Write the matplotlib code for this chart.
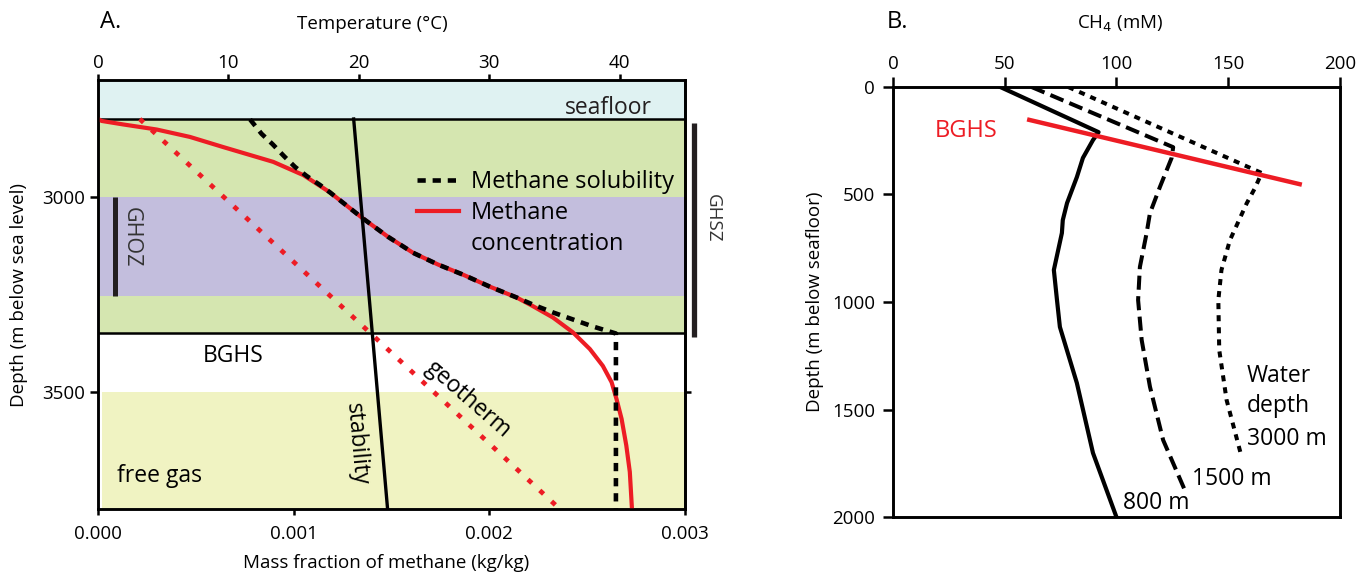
import matplotlib
matplotlib.use("Agg")
import matplotlib.pyplot as plt
import matplotlib.transforms as mtransforms
from matplotlib.lines import Line2D

plt.rcParams["font.family"] = ["Open Sans", "DejaVu Sans"]

# ---- panel A data (depth in m below sea level) ----
conc_depth = [2800, 2805, 2814, 2827, 2846, 2872, 2910, 2944, 2988, 3055, 3102, 3143, 3173,
              3199, 3230, 3258, 3280, 3309, 3347, 3390, 3433, 3475, 3518, 3569, 3637, 3705,
              3800]
conc_mf = [0.0, 0.0000189, 0.000129, 0.0003, 0.00047, 0.00064, 0.000896, 0.00105, 0.001185,
           0.001354, 0.001482, 0.00161, 0.001737, 0.001865, 0.002003, 0.002141, 0.002223,
           0.002325, 0.002427, 0.002514, 0.00258, 0.002625, 0.00265, 0.002676, 0.0027,
           0.002718, 0.002729]
sol_depth = [2801, 2838, 2865, 2896, 2923, 2946, 2969, 2988, 3055, 3102, 3143, 3173, 3199,
             3230, 3258, 3276, 3296, 3314, 3332, 3350, 3800]
sol_mf = [0.000777, 0.000836, 0.000893, 0.000952, 0.001007, 0.001066, 0.001134, 0.001185,
          0.001354, 0.001482, 0.00161, 0.001737, 0.001865, 0.002003, 0.002141, 0.002223,
          0.002325, 0.002427, 0.002529, 0.002647, 0.002647]
geo_depth = [2800, 3800]
geo_temp = [3.2, 35.4]
stab_depth = [2800, 3800]
stab_temp = [19.6, 22.2]

top_depth, bottom_depth = 2700, 3800
seafloor_depth = 2800
bghs_depth = 3350
ghoz_top, ghoz_bottom = 3000, 3255
ghsz_top, ghsz_bottom = 2810, 3360
free_gas_top = 3500

# ---- panel B data (depth in m below seafloor, CH4 in mM) ----
d800 = [0, 210, 247, 330, 419, 540, 619, 679, 851, 991, 1116, 1377, 1702, 2000]
c800 = [48, 92, 89.5, 85, 82.3, 77.9, 76, 75.6, 72, 73.4, 74.7, 82.3, 89.5, 100]
d1500 = [0, 280, 330, 464, 587, 680, 837, 991, 1177, 1394, 1642, 1875]
c1500 = [62, 125.4, 124.7, 119.5, 115, 113.5, 110.5, 109.7, 111.3, 115, 120.9, 130.6]
d3000 = [0, 400, 470, 541, 712, 851, 991, 1223, 1456, 1720]
c3000 = [78.4, 165, 162, 158.3, 150.8, 147, 145.6, 146, 149.3, 156]
bghs_b_ch4 = [61, 182]
bghs_b_depth = [153, 452]

RED = "#ed1c24"
CYAN = "#dff2f2"
GREEN = "#d5e6b0"
PURPLE = "#c3bedd"
YELLOW = "#f0f3c2"
DARK = "#231f20"
TICK_FS = 13.5
LABEL_FS = 13.5
INNER_FS = 16.5

fig = plt.figure(figsize=(13.61, 5.73), dpi=100)
axA = fig.add_axes([0.0720, 0.1117, 0.4313, 0.7487])
axB = fig.add_axes([0.6561, 0.0977, 0.3284, 0.7505])

# ---------------- panel A ----------------
axA.axhspan(top_depth, seafloor_depth, color=CYAN, lw=0, zorder=0)
axA.axhspan(seafloor_depth, bghs_depth, color=GREEN, lw=0, zorder=0)
axA.axhspan(ghoz_top, ghoz_bottom, color=PURPLE, lw=0, zorder=0)
axA.axhspan(free_gas_top, bottom_depth, xmin=0.006, color=YELLOW, lw=0, zorder=0)
axA.axhline(seafloor_depth, color="k", lw=1.8, zorder=1)
axA.axhline(bghs_depth, color="k", lw=1.8, zorder=1)

conc_line, = axA.plot(conc_mf, conc_depth, color=RED, lw=3.0, zorder=3)
sol_line, = axA.plot(sol_mf, sol_depth, color="k", lw=3.3, ls=(0, (1.8, 1.5)), zorder=4)

axA.plot([0.0000869, 0.0000869], [ghoz_top, ghoz_bottom], color=DARK, lw=3.6, zorder=2,
         solid_capstyle="butt")
axA.text(0.000169, 3102, "GHOZ", rotation=-90, ha="center", va="center", fontsize=15.5,
         color="#333333")

axA.set_xlim(0, 0.003)
axA.set_xticks([0, 0.001, 0.002, 0.003])
axA.set_xticklabels([f"{v:.3f}" for v in [0, 0.001, 0.002, 0.003]])
axA.set_yticks([3000, 3500])
axA.tick_params(axis="x", direction="out", length=4.3, width=1.8, pad=7, labelsize=TICK_FS)
axA.tick_params(axis="y", direction="out", length=5.5, width=1.8, pad=4, labelsize=TICK_FS)
for s in axA.spines.values():
    s.set_linewidth(1.8)

sec = axA.secondary_yaxis("right")
sec.set_yticks([free_gas_top])
sec.set_yticklabels([""])
sec.tick_params(direction="out", length=4.3, width=1.8)
sec.spines["right"].set_linewidth(1.8)

twin = axA.twiny()
twin.plot(geo_temp, geo_depth, color=RED, lw=3.4, ls=(0, (1.1, 2.3)), zorder=3)
twin.plot(stab_temp, stab_depth, color="k", lw=2.4, zorder=4)
twin.set_xlim(0, 45)
twin.set_xticks([0, 10, 20, 30, 40])
twin.tick_params(axis="x", direction="out", length=4.3, width=1.8, pad=1.5, labelsize=TICK_FS)
for s in twin.spines.values():
    s.set_linewidth(1.8)

axA.set_ylim(bottom_depth, top_depth)

axA.text(0.00283, 2786, "seafloor", ha="right", va="baseline", fontsize=INNER_FS, color=DARK)
axA.text(0.000537, 3423, "BGHS", ha="left", va="baseline", fontsize=INNER_FS)
axA.text(0.0000971, 3732, "free gas", ha="left", va="baseline", fontsize=INNER_FS)
axA.text(0.001323, 3633, "stability", rotation=-85, ha="center", va="center", fontsize=INNER_FS,
         rotation_mode="anchor", zorder=5)
axA.text(0.00189, 3518, "geotherm", rotation=-41, ha="center", va="center", fontsize=INNER_FS,
         rotation_mode="anchor", zorder=5)

blend = mtransforms.blended_transform_factory(axA.transAxes, axA.transData)
axA.plot([1.015, 1.015], [ghsz_top, ghsz_bottom], color=DARK, lw=3.8, transform=blend,
         clip_on=False, solid_capstyle="butt")
axA.text(1.048, 3054, "GHSZ", rotation=-90, ha="center", va="center", fontsize=13.5,
         color="#333333", transform=blend, clip_on=False)

blank = Line2D([], [], color="none")
leg = axA.legend([sol_line, conc_line, blank],
                 ["Methane solubility", "Methane", "concentration"],
                 loc="upper left", bbox_to_anchor=(0.543, 0.79), frameon=False,
                 fontsize=17, handlelength=1.8, handletextpad=0.5, borderpad=0,
                 borderaxespad=0, labelspacing=0.3)
leg.set_zorder(6)

fig.text(100 / 1361, 1 - 22 / 573, "A.", fontsize=17, va="center", ha="left")
fig.text(372 / 1361, 1 - 24 / 573, "Temperature (°C)", fontsize=LABEL_FS, va="center",
         ha="center")
fig.text(386 / 1361, 1 - 563 / 573, "Mass fraction of methane (kg/kg)", fontsize=LABEL_FS,
         va="center", ha="center")
fig.text(19 / 1361, 1 - 295 / 573, "Depth (m below sea level)", fontsize=LABEL_FS,
         va="center", ha="center", rotation=90)

# ---------------- panel B ----------------
axB.plot(c800, d800, color="k", lw=3.0)
axB.plot(c1500, d1500, color="k", lw=2.9, ls=(0, (3.5, 1.6)))
axB.plot(c3000, d3000, color="k", lw=2.9, ls=(0, (1.5, 1.5)))
axB.plot(bghs_b_ch4, bghs_b_depth, color=RED, lw=3.2)

axB.set_xlim(0, 200)
axB.set_ylim(2000, 0)
axB.xaxis.tick_top()
axB.set_xticks([0, 50, 100, 150, 200])
axB.set_yticks([0, 500, 1000, 1500, 2000])
axB.tick_params(axis="x", direction="out", length=7, width=1.8, pad=3, labelsize=TICK_FS)
axB.tick_params(axis="y", direction="out", length=7, width=1.8, pad=6, labelsize=TICK_FS)
for s in axB.spines.values():
    s.set_linewidth(2.1)

axB.text(18.8, 231, "BGHS", color=RED, fontsize=17, ha="left", va="baseline")
axB.text(158.4, 1372, "Water", fontsize=INNER_FS, ha="left", va="baseline")
axB.text(158.4, 1512, "depth", fontsize=INNER_FS, ha="left", va="baseline")
axB.text(158.4, 1665, "3000 m", fontsize=INNER_FS, ha="left", va="baseline")
axB.text(133.8, 1851, "1500 m", fontsize=INNER_FS, ha="left", va="baseline")
axB.text(102.9, 1963, "800 m", fontsize=INNER_FS, ha="left", va="baseline")

fig.text(887 / 1361, 1 - 22 / 573, "B.", fontsize=17, va="center", ha="left")
fig.text(1120 / 1361, 1 - 24 / 573, "CH$_4$ (mM)", fontsize=LABEL_FS, va="center",
         ha="center")
fig.text(815 / 1361, 1 - 302 / 573, "Depth (m below seafloor)", fontsize=LABEL_FS,
         va="center", ha="center", rotation=90)

fig.savefig("out.png", dpi=100)
